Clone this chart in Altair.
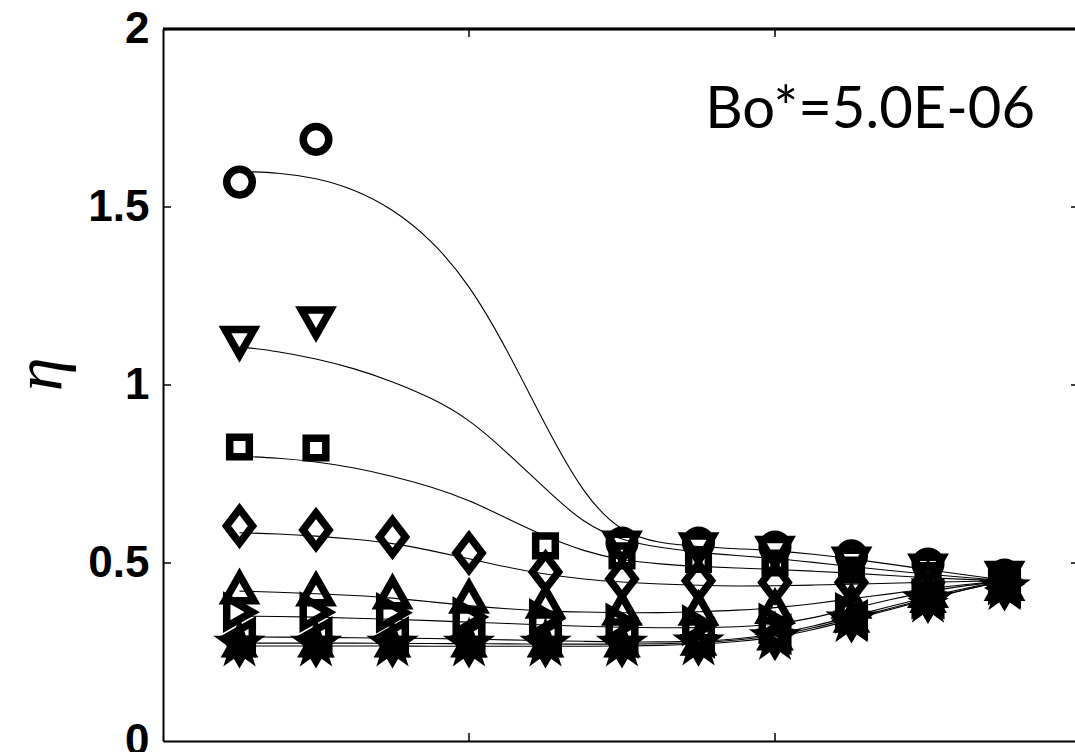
import math
import altair as alt
import pandas as pd

# ---------------- data ----------------
series_names = ["o", "v", "s", "d", "^", ">", "<", "p", "h"]

marker_x = [0.25, 0.5, 0.75, 1.0, 1.25, 1.5, 1.75, 2.0, 2.25, 2.5, 2.75]
N = None
m_o = [1.57, 1.69, N, N, N, 0.556, 0.556, 0.545, 0.52, 0.497, 0.466]
m_v = [1.12, 1.175, N, N, N, 0.545, 0.54, 0.53, 0.50, 0.48, 0.46]
m_s = [0.826, 0.823, N, N, 0.548, 0.52, 0.51, 0.50, 0.48, 0.465, 0.45]
m_d = [0.604, 0.593, 0.573, 0.528, 0.475, 0.455, 0.45, 0.445, 0.445, 0.445, 0.445]
m_tu = [0.43, 0.424, 0.416, 0.404, 0.39, 0.37, 0.37, 0.375, 0.39, 0.42, 0.44]
m_tr = [0.362, 0.362, 0.36, 0.348, 0.343, 0.33, 0.325, 0.33, 0.36, 0.40, 0.44]
m_tl = [0.292, 0.292, 0.292, 0.292, 0.293, 0.29, 0.29, 0.30, 0.34, 0.40, 0.43]
m_p = [0.272, 0.272, 0.272, 0.272, 0.272, 0.272, 0.275, 0.29, 0.34, 0.395, 0.43]
m_h = [0.265, 0.265, 0.265, 0.265, 0.265, 0.265, 0.27, 0.285, 0.335, 0.39, 0.425]
marker_vals = [m_o, m_v, m_s, m_d, m_tu, m_tr, m_tl, m_p, m_h]

curve_x = [0.25, 0.375, 0.5, 0.625, 0.75, 0.875, 1.0, 1.125, 1.25, 1.375, 1.5,
           1.625, 1.75, 1.875, 2.0, 2.125, 2.25, 2.375, 2.5, 2.625, 2.75]
c_o = [1.60, 1.597, 1.582, 1.55, 1.495, 1.41, 1.285, 1.10, 0.885, 0.69, 0.583,
       0.555, 0.546, 0.54, 0.535, 0.525, 0.512, 0.497, 0.481, 0.466, 0.452]
c_v = [1.107, 1.095, 1.074, 1.047, 1.01, 0.965, 0.905, 0.81, 0.708, 0.61, 0.563,
       0.543, 0.53, 0.521, 0.513, 0.502, 0.49, 0.479, 0.468, 0.459, 0.451]
c_s = [0.80, 0.795, 0.785, 0.768, 0.744, 0.715, 0.677, 0.625, 0.574, 0.533, 0.507,
       0.497, 0.49, 0.486, 0.482, 0.477, 0.472, 0.465, 0.458, 0.454, 0.45]
c_d = [0.585, 0.582, 0.576, 0.567, 0.556, 0.535, 0.512, 0.488, 0.468, 0.454, 0.446,
       0.441, 0.437, 0.435, 0.436, 0.438, 0.44, 0.443, 0.446, 0.448, 0.45]
c_tu = [0.421, 0.418, 0.414, 0.409, 0.402, 0.391, 0.38, 0.371, 0.365, 0.362, 0.36,
        0.36, 0.363, 0.367, 0.374, 0.385, 0.40, 0.413, 0.428, 0.44, 0.45]
c_tr = [0.351, 0.35, 0.348, 0.345, 0.342, 0.338, 0.334, 0.33, 0.326, 0.322, 0.319,
        0.318, 0.318, 0.32, 0.327, 0.345, 0.372, 0.397, 0.42, 0.437, 0.45]
c_tl = [0.292, 0.292, 0.291, 0.29, 0.289, 0.288, 0.286, 0.284, 0.282, 0.28, 0.278,
        0.278, 0.28, 0.286, 0.30, 0.322, 0.35, 0.378, 0.405, 0.43, 0.45]
c_p = [0.275, 0.275, 0.275, 0.275, 0.274, 0.274, 0.273, 0.273, 0.272, 0.272, 0.272,
       0.273, 0.276, 0.283, 0.295, 0.317, 0.345, 0.372, 0.40, 0.427, 0.45]
c_h = [0.267, 0.267, 0.267, 0.267, 0.267, 0.266, 0.266, 0.266, 0.266, 0.266, 0.267,
       0.268, 0.272, 0.279, 0.29, 0.312, 0.34, 0.369, 0.398, 0.426, 0.45]
curve_vals = [c_o, c_v, c_s, c_d, c_tu, c_tr, c_tl, c_p, c_h]

y_tick_values = [0, 0.5, 1, 1.5, 2]
x_tick_values = [0, 1, 2]
inner_y_ticks = [0.5, 1.0, 1.5]
inner_x_ticks = [1, 2]
annotation = "Bo*=5.0E-06"

# ---------------- tables ----------------
mrows = []
for name, vals in zip(series_names, marker_vals):
    for xv, yv in zip(marker_x, vals):
        if yv is not None:
            mrows.append({"x": xv, "y": yv, "series": name})
markers_df = pd.DataFrame(mrows)

crows = []
for name, vals in zip(series_names, curve_vals):
    for xv, yv in zip(curve_x, vals):
        crows.append({"x": xv, "y": yv, "series": name})
curves_df = pd.DataFrame(crows)


# ---------------- marker shapes (unit = sqrt(size)/2) ----------------
def star_path(n, r_out, r_in):
    pts = []
    for k in range(2 * n):
        r = r_out if k % 2 == 0 else r_in
        a = -math.pi / 2 + k * math.pi / n
        pts.append((r * math.cos(a), r * math.sin(a)))
    return "M" + "L".join(f"{px:.3f},{py:.3f}" for px, py in pts) + "Z"


R = 0.64
shape_paths = [
    f"M{R},0A{R},{R},0,1,1,{-R},0A{R},{R},0,1,1,{R},0Z",        # circle
    "M-0.725,-0.64L0.725,-0.64L0,0.64Z",                       # triangle down
    "M-0.49,-0.49L0.49,-0.49L0.49,0.49L-0.49,0.49Z",           # square
    "M0,-0.85L0.65,0L0,0.85L-0.65,0Z",                          # diamond
    "M-0.725,0.64L0.725,0.64L0,-0.64Z",                        # triangle up
    "M-0.64,-0.725L0.64,0L-0.64,0.725Z",                       # triangle right
    "M0.64,-0.725L-0.64,0L0.64,0.725Z",                        # triangle left
    star_path(5, 0.78, 0.30),                                   # pentagram
    star_path(6, 0.72, 0.42),                                   # hexagram
]

# plot area: left edge at x=163, top at y=29, 306 px per x unit, 356 px per y unit
W, H = 912, 712
XMAX = W / 306.0
xscale = alt.Scale(domain=[0, XMAX], nice=False, zero=False)
yscale = alt.Scale(domain=[0, 2], nice=False, zero=False)

xenc = alt.X("x:Q", scale=xscale,
             axis=alt.Axis(values=x_tick_values, labels=False, ticks=False, grid=False,
                           domainColor="black", domainWidth=2, title=None))
yenc = alt.Y("y:Q", scale=yscale,
             axis=alt.Axis(values=y_tick_values, format="~g", ticks=False, grid=False,
                           domainColor="black", domainWidth=2,
                           labelFont="Liberation Sans", labelFontWeight="bold",
                           labelFontSize=44, labelColor="black", labelPadding=14,
                           labelOverlap=False, labelFlush=False,
                           title="η", titleFont="Liberation Serif", titleFontStyle="italic",
                           titleFontWeight="normal", titleFontSize=68, titleColor="black",
                           titleX=-122, titleY=345, titleAngle=-90,
                           titleAlign="center", titleBaseline="middle"))

lines = alt.Chart(curves_df).mark_line(
    color="black", strokeWidth=1.1, interpolate="basis"
).encode(x=xenc, y=yenc, detail="series:N", order="x:Q")

points = alt.Chart(markers_df).mark_point(
    filled=False, stroke="black", strokeWidth=7.5, size=1600, opacity=1
).encode(
    x=alt.X("x:Q", scale=xscale),
    y=alt.Y("y:Q", scale=yscale),
    shape=alt.Shape("series:N", scale=alt.Scale(domain=series_names, range=shape_paths),
                    legend=None),
)

ytick_df = pd.DataFrame({"v": inner_y_ticks})
xtick_df = pd.DataFrame({"v": inner_x_ticks})

left_ticks = alt.Chart(ytick_df).mark_rule(color="black", strokeWidth=1.5).encode(
    y=alt.Y("v:Q", scale=yscale), x=alt.value(0), x2=alt.value(8))
right_ticks = alt.Chart(ytick_df).mark_rule(color="black", strokeWidth=1.5).encode(
    y=alt.Y("v:Q", scale=yscale), x=alt.value(W - 4), x2=alt.value(W))
top_ticks = alt.Chart(xtick_df).mark_rule(color="black", strokeWidth=1.5).encode(
    x=alt.X("v:Q", scale=xscale), y=alt.value(0), y2=alt.value(8))
bottom_ticks = alt.Chart(xtick_df).mark_rule(color="black", strokeWidth=1.5).encode(
    x=alt.X("v:Q", scale=xscale), y=alt.value(H - 8), y2=alt.value(H))
top_border = alt.Chart(ytick_df).mark_rule(color="black", strokeWidth=2.5).encode(
    x=alt.value(0), x2=alt.value(W), y=alt.value(0))

label = alt.Chart(pd.DataFrame({"t": [annotation]})).mark_text(
    font="Lato", fontSize=58, color="black", align="right", baseline="alphabetic"
).encode(x=alt.datum(2.85), y=alt.datum(1.722), text="t:N")

chart = alt.layer(
    points, lines, left_ticks, right_ticks, top_ticks, bottom_ticks, top_border, label
).properties(
    width=W, height=H,
    autosize=alt.AutoSizeParams(type="none"),
    padding={"left": 163, "top": 29, "right": 0, "bottom": 11},
    background="white",
).configure_view(strokeWidth=0)

chart.save("out.html", embed_options={"renderer": "svg", "actions": False})
